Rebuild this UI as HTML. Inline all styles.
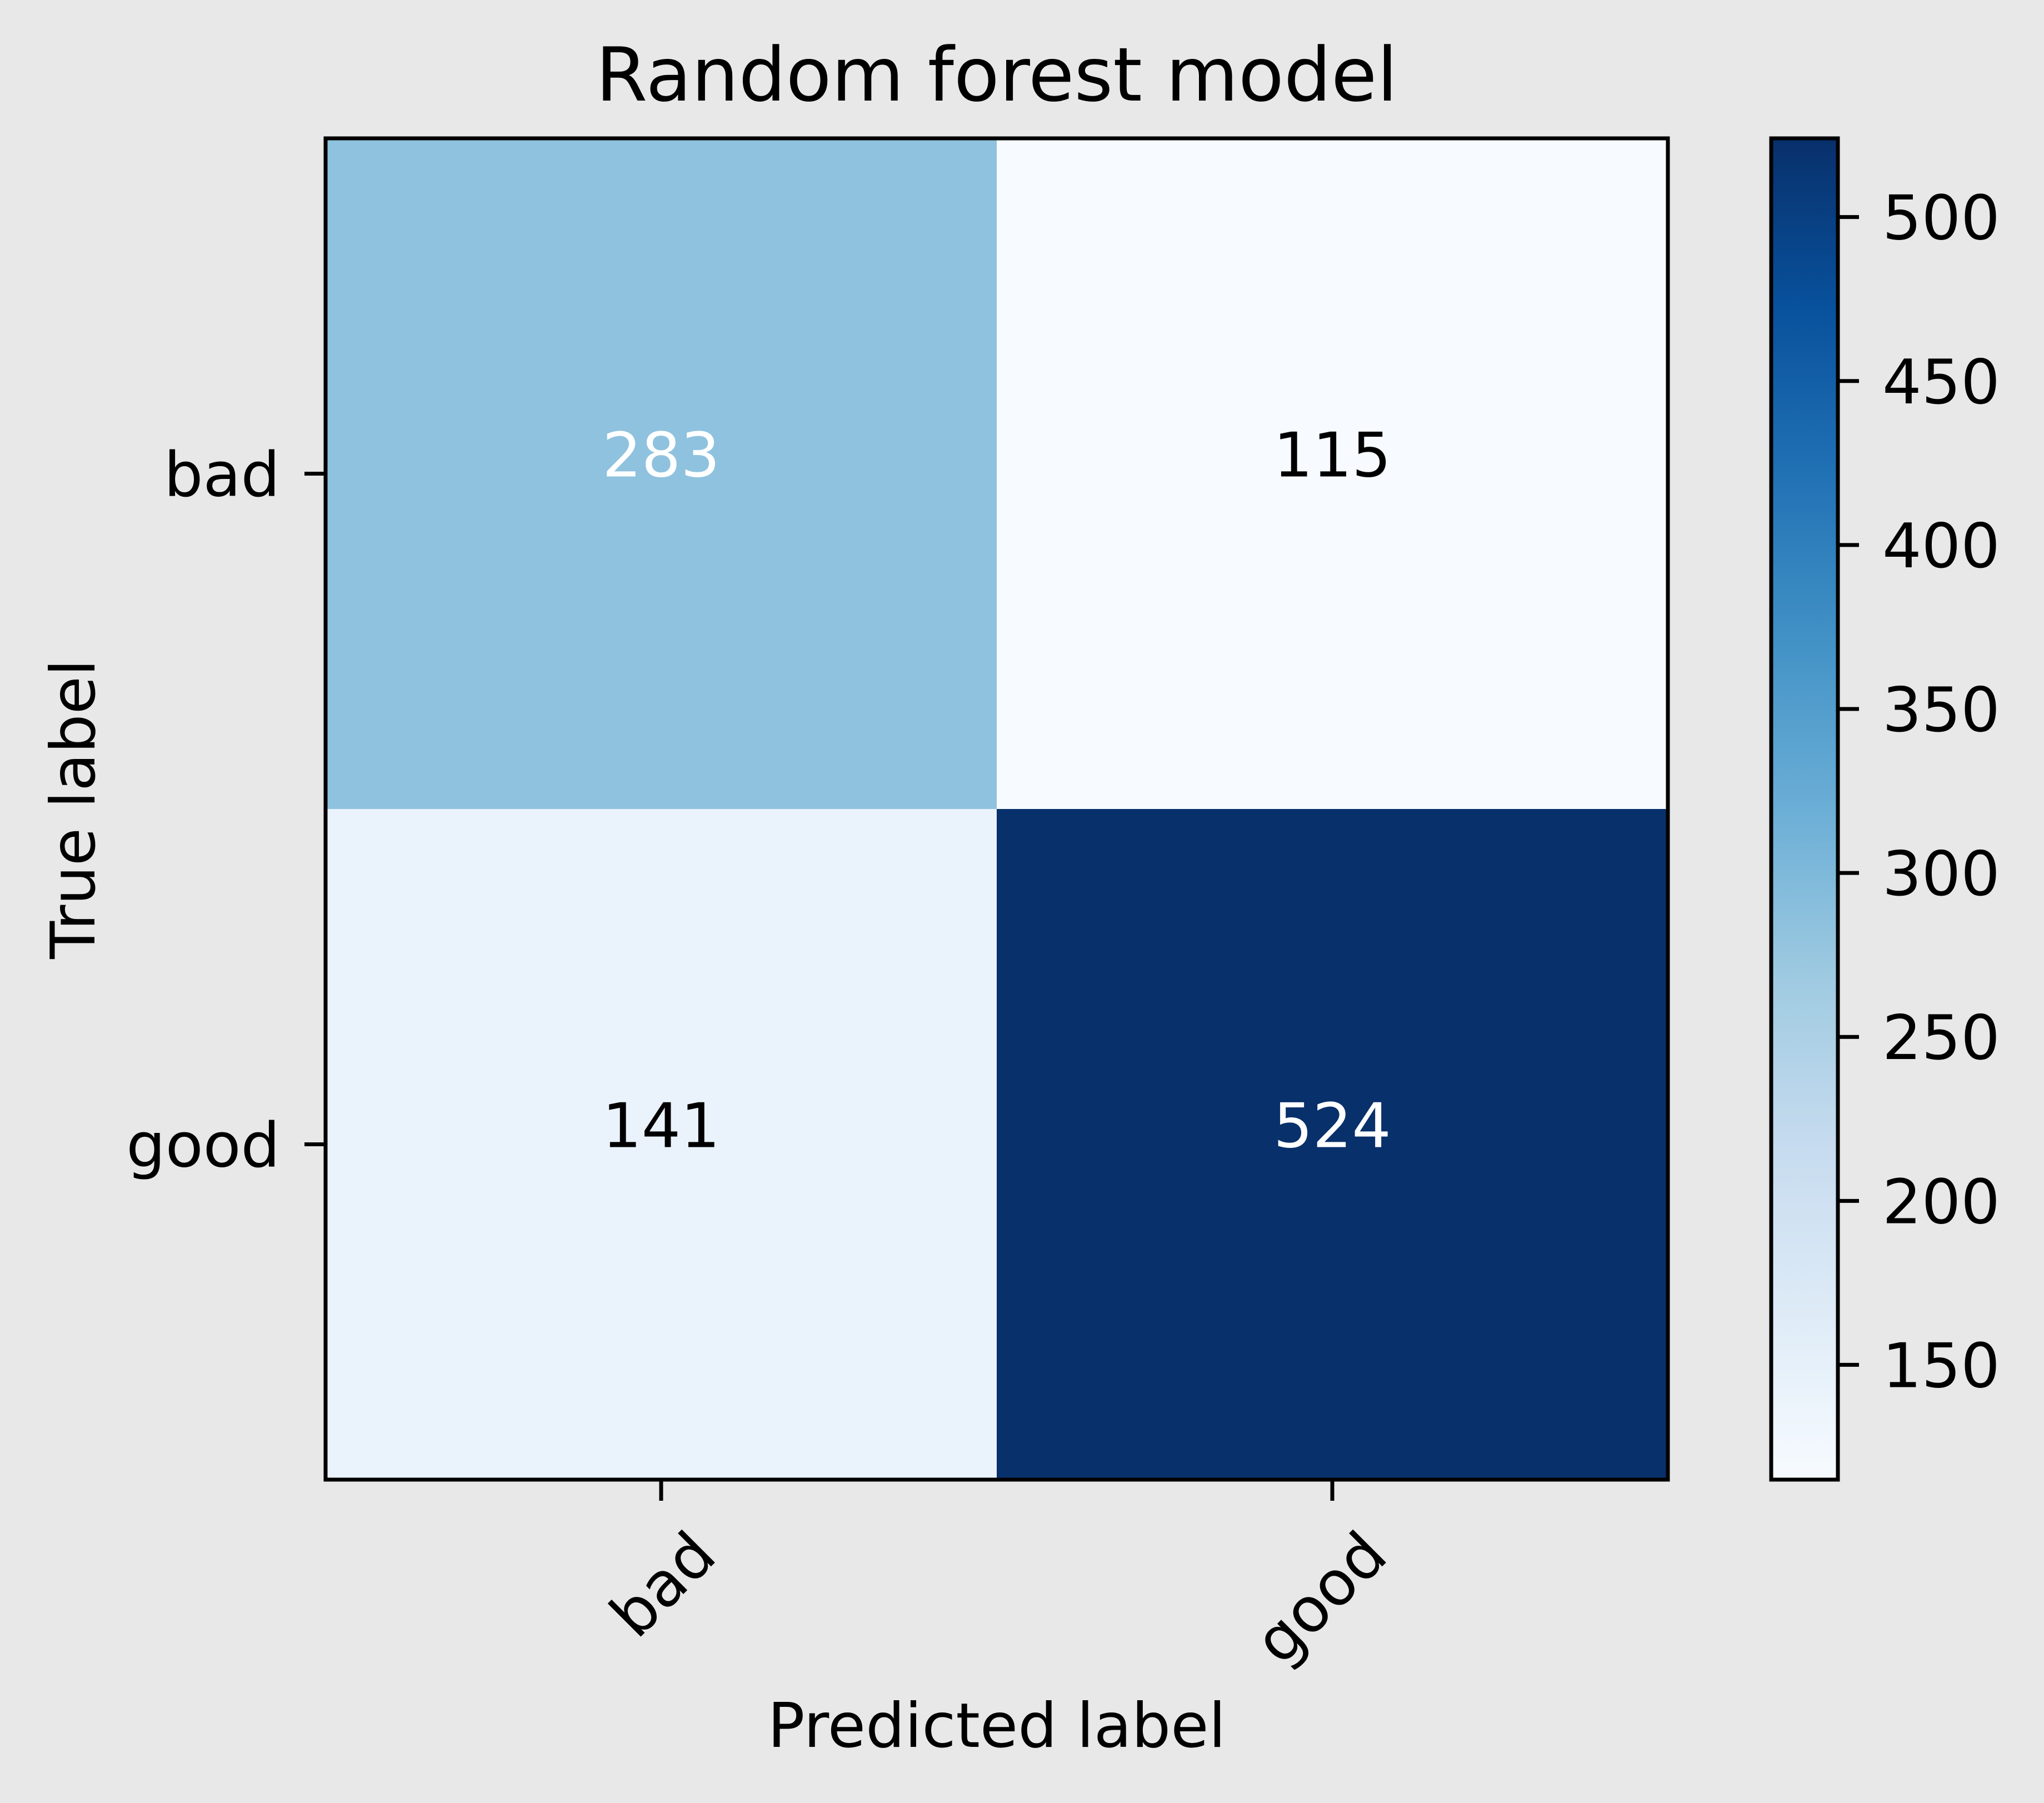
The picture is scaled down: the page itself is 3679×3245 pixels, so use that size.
<!DOCTYPE html>
<html><head><meta charset="utf-8"><style>body{margin:0;background:#e8e8e8}svg{display:block;font-family:"DejaVu Sans","Liberation Sans",sans-serif}</style></head>
<body>
<svg id="chart" width="3679" height="3245" viewBox="0 0 3679 3245" xmlns="http://www.w3.org/2000/svg">
<rect width="3679" height="3245" fill="#e8e8e8"/>
<text x="1794" y="181" font-size="134" text-anchor="middle">Random forest model</text>
<text transform="translate(170,1456) rotate(-90)" font-size="111" text-anchor="middle">True label</text>
<text x="1794" y="3144" font-size="111" text-anchor="middle">Predicted label</text>
<defs><linearGradient id="blues" x1="0" y1="1" x2="0" y2="0"></linearGradient></defs>
<g id="cells"></g>
<g id="axes"></g>
</svg>
<script>
const categories = ['bad', 'good'];
const row0 = [283, 115];
const row1 = [141, 524];
const cbTicks = [150, 200, 250, 300, 350, 400, 450, 500];
const matrix = [row0, row1];
const NS = 'http://www.w3.org/2000/svg';
const stops = ['#f7fbff','#deebf7','#c6dbef','#9ecae1','#6baed6','#4292c6','#2171b5','#08519c','#08306b'];
const all = row0.concat(row1);
const vmin = Math.min(...all), vmax = Math.max(...all);
const L = 586, R = 3002, T = 249, B = 2663;
const n = categories.length;
const cw = (R - L) / n, ch = (B - T) / n;
function hex(c){return [1,3,5].map(i=>parseInt(c.substr(i,2),16));}
function cmap(t){t=Math.max(0,Math.min(1,t));const p=t*(stops.length-1);const i=Math.min(Math.floor(p),stops.length-2);const f=p-i;const a=hex(stops[i]),b=hex(stops[i+1]);return 'rgb('+a.map((v,k)=>Math.round(v+(b[k]-v)*f)).join(',')+')';}
function mk(tag, attrs, parent){const e=document.createElementNS(NS,tag);for(const k in attrs)e.setAttribute(k,attrs[k]);parent.appendChild(e);return e;}
const cells = document.getElementById('cells');
const axes = document.getElementById('axes');
const grad = document.getElementById('blues');
stops.forEach((c,i)=>mk('stop',{offset:(i/(stops.length-1)),'stop-color':c},grad));
const thresh = vmax / 2;
for (let r=0;r<n;r++) for (let c=0;c<n;c++){
  const v = matrix[r][c];
  const rect = mk('rect',{x:L+c*cw,y:T+r*ch,width:cw+0.5,height:ch+0.5,fill:cmap((v-vmin)/(vmax-vmin))},cells);
  
  
  const t = mk('text',{x:L+(c+0.5)*cw,y:T+(r+0.5)*ch+5,'font-size':111,'text-anchor':'middle',fill:v>thresh?'#ffffff':'#000000'},cells);
  t.textContent = v;
  
  
}
const frame = mk('rect',{x:L,y:T,width:R-L,height:B-T,fill:'none',stroke:'#000','stroke-width':7},axes);


categories.forEach((cat,i)=>{
  const x = L+(i+0.5)*cw, y = T+(i+0.5)*ch;
  const tx = mk('line',{x1:x,x2:x,y1:B,y2:B+38,stroke:'#000','stroke-width':7},axes);
  
  
  const lx = mk('text',{transform:'translate('+(x+104)+','+(B+142)+') rotate(-45)','font-size':111,'text-anchor':'end'},axes);
  lx.textContent = cat;
  
  
  const ty = mk('line',{x1:L-38,x2:L,y1:y,y2:y,stroke:'#000','stroke-width':7},axes);
  
  
  const ly = mk('text',{x:L-82,y:y+40,'font-size':111,'text-anchor':'end'},axes);
  ly.textContent = cat;
  
  
});
const CL = 3188, CR = 3308;
const cb = mk('rect',{x:CL,y:T,width:CR-CL,height:B-T,fill:'url(#blues)',stroke:'#000','stroke-width':7},axes);


function cy(v){return B-(v-vmin)/(vmax-vmin)*(B-T);}
cbTicks.forEach(v=>{
  const y = cy(v);
  const tl = mk('line',{x1:CR,x2:CR+38,y1:y,y2:y,stroke:'#000','stroke-width':7},axes);
  
  
  const tt = mk('text',{x:3388,y:y+40,'font-size':111},axes);
  tt.textContent = v;
  
  
});
</script>
</body></html>
